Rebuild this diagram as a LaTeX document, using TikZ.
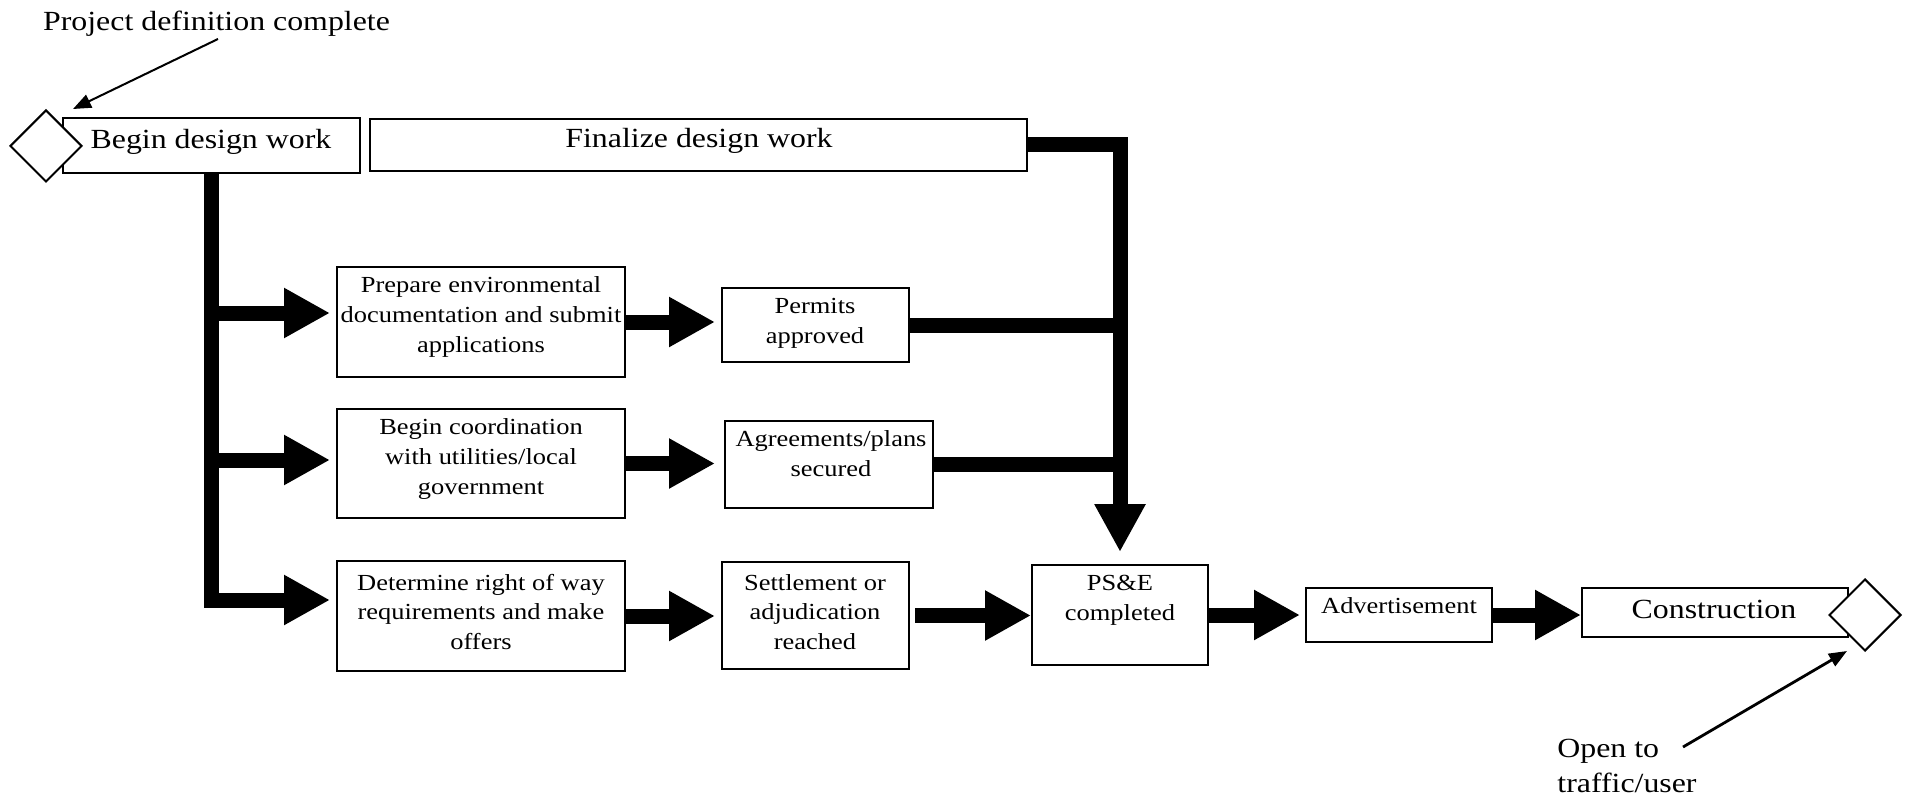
\documentclass[tikz,border=0pt]{standalone}
\usepackage{fontspec}
\setmainfont{Liberation Serif}[FakeStretch=1.15]
\usetikzlibrary{arrows.meta,shapes.geometric}
\tikzset{
 box/.style={draw, line width=1pt, inner sep=0pt},
 big/.style={font=\fontsize{13.85}{17.5}\selectfont, inner sep=0pt},
 small/.style={font=\fontsize{11.5}{14.9}\selectfont, align=center, inner sep=0pt},
 flow/.style={line width=7.5pt, line join=miter, -{Triangle[length=23pt,width=23.5pt]}},
 bar/.style={line width=7.5pt},
 thin/.style={line width=1pt, -{Triangle[length=9pt,width=7pt]}},
 milestone/.style={draw, fill=white, diamond, line width=1pt, minimum width=36pt, minimum height=36pt, inner sep=0pt},
}
\begin{document}
\begin{tikzpicture}[x=0.5pt,y=-0.5pt]
\useasboundingbox (0,0) rectangle (1905,802);

% boxes
\node[box, minimum width=148.5pt, minimum height=27.5pt] (begin)  at (211.5,145.5) {};
\node[box, minimum width=328.5pt, minimum height=26pt]   (final)  at (698.5,145) {};
\node[box, minimum width=144pt,   minimum height=55pt]   (prep)   at (481,322) {};
\node[box, minimum width=93.5pt,  minimum height=37pt]   (perm)   at (815.5,325) {};
\node[box, minimum width=144pt,   minimum height=54.5pt] (coord)  at (481,463.5) {};
\node[box, minimum width=104pt,   minimum height=43.5pt] (agree)  at (829,464.5) {};
\node[box, minimum width=144pt,   minimum height=55pt]   (row)    at (481,616) {};
\node[box, minimum width=93.5pt,  minimum height=53.5pt] (settle) at (815.5,615.5) {};
\node[box, minimum width=88pt,    minimum height=50pt]   (pse)    at (1120,615) {};
\node[box, minimum width=93pt,    minimum height=27pt]   (adv)    at (1399,615) {};
\node[box, minimum width=133pt,   minimum height=24.5pt] (cons)   at (1715,612.5) {};

% milestones
\node[milestone] (start)  at (46,146) {};
\node[milestone] (finish) at (1865,615) {};

% texts
\node[big] (pdT) at (216.5,23.5) {Project definition complete};
\node[big] (beginT) at (211,142) {Begin design work};
\node[big] (finalT) at (699,141) {Finalize design work};
\node[small] (prepT) at (481,317) {Prepare environmental\\documentation and submit\\applications};
\node[small] (permT) at (815,323) {Permits\\approved};
\node[small] (coordT) at (481,459) {Begin coordination\\with utilities/local\\government};
\node[small] (agreeT) at (831,454) {Agreements/plans\\secured};
\node[small] (rowT) at (481,612) {Determine right of way\\requirements and make\\offers};
\node[small] (settleT) at (815,612) {Settlement or\\adjudication\\reached};
\node[small] (pseT) at (1120,600) {PS\&E\\completed};
\node[small] (advT) at (1399,606) {Advertisement};
\node[big] (consT) at (1714,609) {Construction};
\node[big, anchor=north west, align=left] (openT) at (1557,739) {Open to\\traffic/user};

% junctions
\coordinate (j1) at (211.5,313);
\coordinate (j2) at (211.5,460);
\coordinate (j3) at (211.5,600);

% left trunk and branches
\draw[flow, shorten >=3pt] (begin.south) -- (j3) -- (j3 -| row.west);
\draw[flow, shorten >=3pt] (j1) -- (j1 -| prep.west);
\draw[flow, shorten >=3pt] (j2) -- (j2 -| coord.west);

% middle arrows
\draw[flow, shorten >=3pt] (prep.east) -- (prep.east -| perm.west);
\draw[flow, shorten >=4.5pt] (coord.east) -- (coord.east -| agree.west);
\draw[flow, shorten >=3pt] (row.east) -- (row.east -| settle.west);
\draw[flow, shorten <=2.5pt] (settle.east) -- (settle.east -| pse.west);
\draw[flow, shorten >=2.5pt] (pse.east) -- (pse.east -| adv.west);
\draw[flow] (adv.east) -- (adv.east -| cons.west);

% right column to PS&E
\draw[bar] (perm.east) -- (perm.east -| pse.north);
\draw[bar] (agree.east) -- (agree.east -| pse.north);
\draw[line width=7.5pt, line join=miter, -{Triangle[length=24pt,width=24pt]}, shorten >=6pt]
  (final.east) -- (final.east -| pse.north) -- (pse.north);

% thin annotation arrows
\coordinate (pd1) at (218,39);
\coordinate (pd2) at (73,109);
\draw[thin] (pd1) -- (pd2);
\coordinate (op1) at (1683,747);
\coordinate (op2) at (1847,651);
\draw[thin, line width=1.4pt] (op1) -- (op2);
\end{tikzpicture}
\end{document}
